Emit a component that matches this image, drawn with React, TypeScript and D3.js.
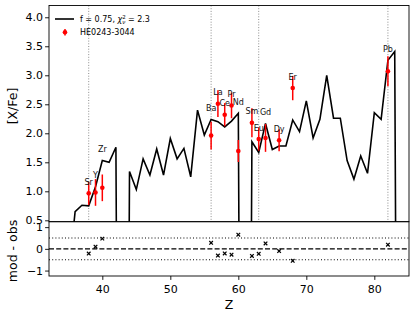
import React, { useEffect, useRef } from 'react';
import * as d3 from 'd3';

// model pattern, one value per Z (very low values = element not predicted)
const modelZ = [35, 36, 37, 38, 39, 40, 41, 42, 43, 44, 45, 46, 47, 48, 49, 50, 51, 52, 53, 54,
  55, 56, 57, 58, 59, 60, 61, 62, 63, 64, 65, 66, 67, 68, 69, 70, 71, 72, 73, 74,
  75, 76, 77, 78, 79, 80, 81, 82, 83, 84];
const modelVal = [-0.5, 0.65, 0.76, 0.75, 1.08, 1.53, 1.5, 1.76, -20, 1.34, 1.03, 1.56, 1.28, 1.73, 1.28, 1.91, 1.56, 1.74, 1.25, 2.4,
  1.97, 2.24, 2.2, 2.11, 2.21, 2.345, -20, 1.855, 1.67, 2.17, 1.72, 1.78, 1.78, 2.23, 2.03, 2.56, 1.92, 2.24, 3.0, 2.26,
  2.26, 1.53, 1.21, 1.61, 1.31, 2.355, 2.24, 3.26, 3.41, -20];

// observed abundances of HE0243-3044
const obsZ = [38, 39, 40, 56, 57, 58, 59, 60, 62, 63, 64, 66, 68, 82];
const obsName = ['Sr', 'Y', 'Zr', 'Ba', 'La', 'Ce', 'Pr', 'Nd', 'Sm', 'Eu', 'Gd', 'Dy', 'Er', 'Pb'];
const obsVal = [0.965, 0.98, 1.06, 1.96, 2.51, 2.32, 2.48, 1.695, 2.18, 1.9, 1.92, 1.88, 2.78, 3.07];
const obsErr = [0.2, 0.23, 0.23, 0.24, 0.23, 0.2, 0.22, 0.19, 0.25, 0.2, 0.24, 0.19, 0.21, 0.26];

const markedZ = [38, 56, 63, 82];
const xTicks = [40, 50, 60, 70, 80];
const yTicksTop = [0.5, 1.0, 1.5, 2.0, 2.5, 3.0, 3.5, 4.0];
const yTicksBottom = [-1, 0, 1];
const resLines = [-0.5, 0, 0.5];

const FONT = 'DejaVu Sans, sans-serif';

export default function App() {
  const ref = useRef<HTMLDivElement>(null);

  useEffect(() => {
    const container = ref.current;
    if (!container) return;
    d3.select(container).selectAll('svg').remove();

    const width = 415;
    const height = 317;
    const left = 49;
    const right = 409;
    const top = 5.5;
    const mid = 221.7;
    const bottom = 276;

    const svg = d3.select(container)
      .append('svg')
      .attr('width', width)
      .attr('height', height)
      .style('position', 'absolute')
      .style('left', 0)
      .style('top', 0)
      .style('font-family', FONT);

    const x = d3.scaleLinear().domain([32.16, 85.1]).range([left, right]);
    const yTop = d3.scaleLinear().domain([0.476, 4.203]).range([mid, top]);
    const yBot = d3.scaleLinear().domain([-1.25, 1.25]).range([bottom, mid]);

    const modelAt = (z: number) => modelVal[modelZ.indexOf(z)];

    svg.append('clipPath').attr('id', 'clipTop')
      .append('rect')
      .attr('x', left).attr('y', top)
      .attr('width', right - left).attr('height', mid - top);

    // top panel
    const gTop = svg.append('g');

    gTop.selectAll('line.mark')
      .data(markedZ)
      .enter()
      .append('line')
      .attr('x1', d => x(d)).attr('x2', d => x(d))
      .attr('y1', top).attr('y2', mid)
      .style('stroke', '#808080')
      .style('stroke-width', 0.9)
      .style('stroke-dasharray', '1,1.7');

    const line = d3.line<number>()
      .x((d, i) => x(modelZ[i]))
      .y(d => yTop(d));

    gTop.append('path')
      .datum(modelVal)
      .attr('d', line)
      .attr('clip-path', 'url(#clipTop)')
      .style('fill', 'none')
      .style('stroke', 'black')
      .style('stroke-width', 1.6)
      .style('stroke-linejoin', 'miter');

    const obs = obsZ.map((z, i) => ({ z, v: obsVal[i], e: obsErr[i], name: obsName[i] }));

    gTop.selectAll('line.err')
      .data(obs)
      .enter()
      .append('line')
      .attr('x1', d => x(d.z)).attr('x2', d => x(d.z))
      .attr('y1', d => yTop(d.v - d.e)).attr('y2', d => yTop(d.v + d.e))
      .style('stroke', 'red')
      .style('stroke-width', 1.5);

    gTop.selectAll('circle.obs')
      .data(obs)
      .enter()
      .append('circle')
      .attr('cx', d => x(d.z))
      .attr('cy', d => yTop(d.v))
      .attr('r', 2.3)
      .style('fill', 'red');

    gTop.selectAll('text.elem')
      .data(obs)
      .enter()
      .append('text')
      .text(d => d.name)
      .attr('x', d => x(d.z))
      .attr('y', d => yTop(Math.max(d.v, modelAt(d.z)) + 0.19))
      .attr('text-anchor', 'middle')
      .attr('dominant-baseline', 'central')
      .attr('font-size', 8)
      .style('fill', '#111');

    // legend
    const lg = svg.append('g');
    lg.append('line')
      .attr('x1', 55).attr('x2', 74).attr('y1', 19).attr('y2', 19)
      .style('stroke', 'black').style('stroke-width', 1.6);
    const t1 = lg.append('text')
      .attr('x', 80).attr('y', 22)
      .attr('font-size', 8);
    t1.append('tspan').text('f = 0.75, ');
    t1.append('tspan').text('χ').attr('font-style', 'italic');
    t1.append('tspan').text('2').attr('font-size', 5.5).attr('dy', -3.2);
    t1.append('tspan').text('ν').attr('font-size', 5.5).attr('font-style', 'italic').attr('dx', -3.4).attr('dy', 5.4);
    t1.append('tspan').text(' = 2.3').attr('dy', -2.2);

    lg.append('line')
      .attr('x1', 65).attr('x2', 65).attr('y1', 29).attr('y2', 35.6)
      .style('stroke', 'red').style('stroke-width', 1.5);
    lg.append('circle')
      .attr('cx', 65).attr('cy', 32.3).attr('r', 2.3)
      .style('fill', 'red');
    lg.append('text')
      .text('HE0243-3044')
      .attr('x', 80).attr('y', 35.2)
      .attr('font-size', 8);

    // bottom panel
    const gBot = svg.append('g');
    gBot.selectAll('line.ref')
      .data(resLines)
      .enter()
      .append('line')
      .attr('x1', left).attr('x2', right)
      .attr('y1', d => yBot(d)).attr('y2', d => yBot(d))
      .style('stroke', 'black')
      .style('stroke-width', d => (d === 0 ? 1.3 : 1.1))
      .style('stroke-dasharray', d => (d === 0 ? '5,2.2' : '1,2.2'));

    const res = obs.map(d => ({ z: d.z, r: modelAt(d.z) - d.v }));
    const s = 1.8;
    const cross = gBot.selectAll('g.res')
      .data(res)
      .enter()
      .append('g')
      .attr('transform', d => `translate(${x(d.z)},${yBot(d.r)})`);
    cross.append('line')
      .attr('x1', -s).attr('y1', -s).attr('x2', s).attr('y2', s)
      .style('stroke', 'black').style('stroke-width', 1.2);
    cross.append('line')
      .attr('x1', -s).attr('y1', s).attr('x2', s).attr('y2', -s)
      .style('stroke', 'black').style('stroke-width', 1.2);

    // frames
    svg.append('rect')
      .attr('x', left).attr('y', top)
      .attr('width', right - left).attr('height', mid - top)
      .style('fill', 'none').style('stroke', 'black').style('stroke-width', 0.9);
    svg.append('rect')
      .attr('x', left).attr('y', mid)
      .attr('width', right - left).attr('height', bottom - mid)
      .style('fill', 'none').style('stroke', 'black').style('stroke-width', 0.9);

    // axes
    const styleAxis = (g: d3.Selection<SVGGElement, unknown, null, undefined>) => {
      g.select('.domain').remove();
      g.attr('font-family', FONT).attr('font-size', 11);
      g.selectAll('.tick line').style('stroke-width', 0.9);
      g.selectAll('.tick text').style('fill', 'black');
    };

    svg.append('g')
      .attr('transform', `translate(${left},0)`)
      .call(d3.axisLeft(yTop).tickValues(yTicksTop).tickFormat(d3.format('.1f')).tickSize(3.9).tickPadding(2))
      .call(styleAxis);

    svg.append('g')
      .attr('transform', `translate(${left},0)`)
      .call(d3.axisLeft(yBot).tickValues(yTicksBottom).tickFormat(d => d3.format('d')(d as number).replace('-', '−')).tickSize(3.9).tickPadding(2))
      .call(styleAxis);

    svg.append('g')
      .attr('transform', `translate(0,${bottom})`)
      .call(d3.axisBottom(x).tickValues(xTicks).tickFormat(d3.format('d')).tickSize(3.9).tickPadding(5))
      .call(styleAxis);

    // axis labels
    svg.append('text')
      .text('Z')
      .attr('x', (left + right) / 2)
      .attr('y', 308.5)
      .attr('text-anchor', 'middle')
      .attr('font-size', 12.5);

    svg.append('text')
      .text('[X/Fe]')
      .attr('transform', 'translate(17,106) rotate(-90)')
      .attr('text-anchor', 'middle')
      .attr('font-size', 12.5);

    svg.append('text')
      .text('mod - obs')
      .attr('transform', 'translate(17,251) rotate(-90)')
      .attr('text-anchor', 'middle')
      .attr('font-size', 12.5);
  }, []);

  return <div ref={ref} />;
}
